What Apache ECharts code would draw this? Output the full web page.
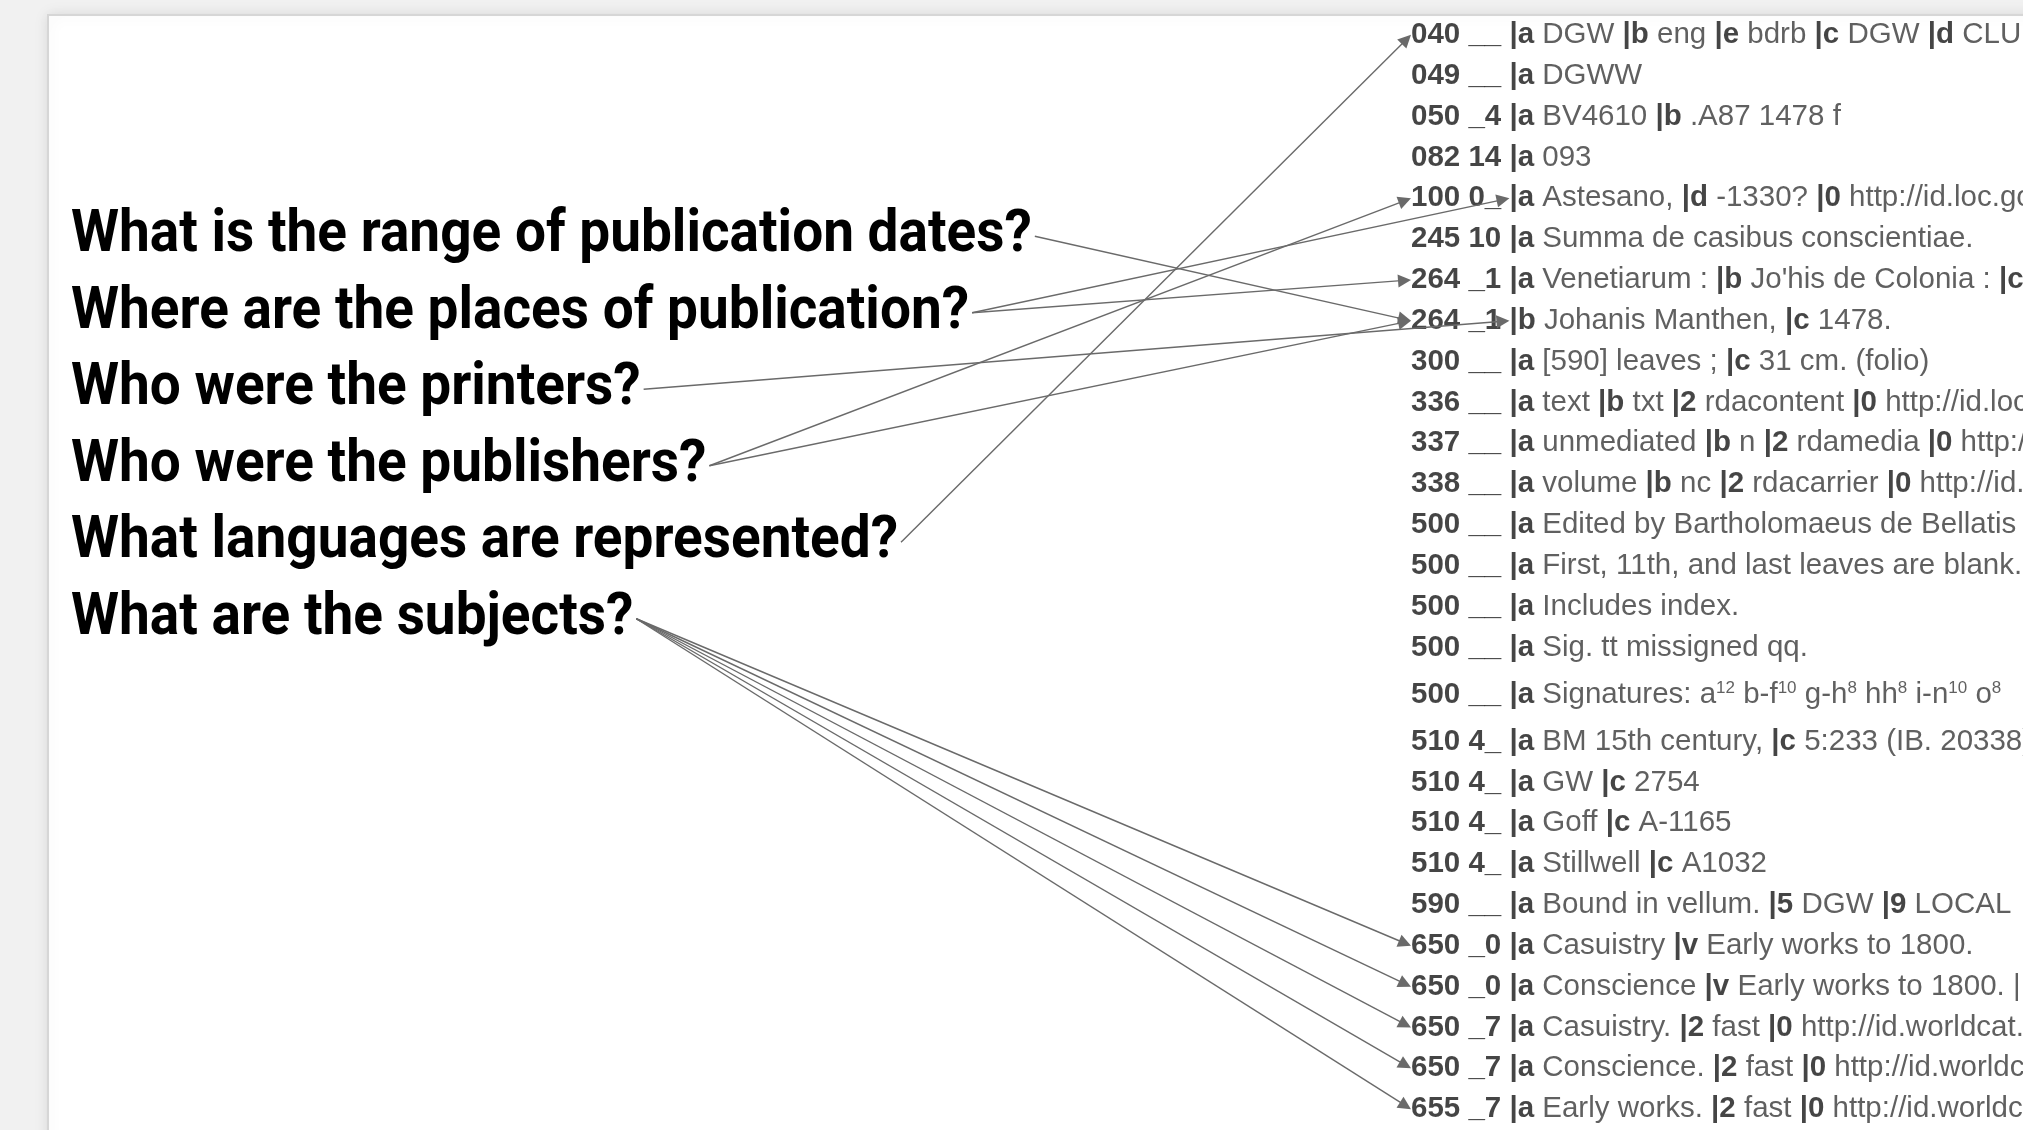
<!DOCTYPE html>
<html>
<head>
<meta charset="utf-8">
<title>MARC questions</title>
<script src="https://cdn.jsdelivr.net/npm/echarts@6/dist/echarts.min.js"></script>
<style>
  html, body { margin: 0; padding: 0; background: #f1f1f1; }
  #main { width: 2023px; height: 1130px; }
</style>
</head>
<body>
<div id="main"></div>
<script>
// questions on the left
var questions = [
  'What is the range of publication dates?',
  'Where are the places of publication?',
  'Who were the printers?',
  'Who were the publishers?',
  'What languages are represented?',
  'What are the subjects?'
];

// MARC record on the right
var fieldTags = ['040', '049', '050', '082', '100', '245', '264', '264', '300', '336', '337', '338',
  '500', '500', '500', '500', '500', '510', '510', '510', '510', '590', '650', '650', '650', '650', '655'];
var fieldInds = ['__', '__', '_4', '14', '0_', '10', '_1', '_1', '__', '__', '__', '__',
  '__', '__', '__', '__', '__', '4_', '4_', '4_', '4_', '__', '_0', '_0', '_7', '_7', '_7'];
var fieldText = [
  '|a DGW |b eng |e bdrb |c DGW |d CLU',
  '|a DGWW',
  '|a BV4610 |b .A87 1478 f',
  '|a 093',
  '|a Astesano, |d -1330? |0 http://id.loc.gov/authorities/names',
  '|a Summa de casibus conscientiae.',
  '|a Venetiarum : |b Jo\'his de Colonia : |c',
  '|b Johanis Manthen, |c 1478.',
  '|a [590] leaves ; |c 31 cm. (folio)',
  '|a text |b txt |2 rdacontent |0 http://id.loc.gov/vocabulary',
  '|a unmediated |b n |2 rdamedia |0 http://id.loc.gov/vocabulary',
  '|a volume |b nc |2 rdacarrier |0 http://id.loc.gov/vocabulary',
  '|a Edited by Bartholomaeus de Bellatis',
  '|a First, 11th, and last leaves are blank.',
  '|a Includes index.',
  '|a Sig. tt missigned qq.',
  '|a Signatures: a¹² b-f¹⁰ g-h⁸ hh⁸ i-n¹⁰ o⁸',
  '|a BM 15th century, |c 5:233 (IB. 20338)',
  '|a GW |c 2754',
  '|a Goff |c A-1165',
  '|a Stillwell |c A1032',
  '|a Bound in vellum. |5 DGW |9 LOCAL',
  '|a Casuistry |v Early works to 1800.',
  '|a Conscience |v Early works to 1800. |',
  '|a Casuistry. |2 fast |0 http://id.worldcat.org/fast',
  '|a Conscience. |2 fast |0 http://id.worldcat.org/fast',
  '|a Early works. |2 fast |0 http://id.worldcat.org/fast'
];

// arrows: question index -> field index, pointing at the tag or at the subfield
var linkFrom = [0, 1, 1, 2, 3, 3, 4, 5, 5, 5, 5, 5];
var linkTo   = [7, 4, 6, 7, 4, 7, 0, 22, 23, 24, 25, 26];
var linkAt   = ['tag', 'sub', 'tag', 'sub', 'tag', 'tag', 'tag', 'tag', 'tag', 'tag', 'tag', 'tag'];

var qFont = 'Roboto, "Liberation Sans", sans-serif';
var fFont = '"Liberation Sans", Arial, sans-serif';
var qSize = 60;
var qScale = 0.916;   // the questions are set in a condensed face
var fSize = 29.5;
var arrowSize = 13;
var supMap = { '⁰': '0', '¹': '1', '²': '2', '³': '3', '⁴': '4', '⁵': '5', '⁶': '6', '⁷': '7', '⁸': '8', '⁹': '9' };

function measure(text, font) {
  var ctx = measure.ctx || (measure.ctx = document.createElement('canvas').getContext('2d'));
  ctx.font = font;
  return ctx.measureText(text).width;
}

// row positions (lines with superscripts are taller)
var rowCenter = [];
var rowTotal = 0;
for (var i = 0; i < fieldText.length; i++) {
  var h = /[⁰¹²³⁴⁵⁶⁷⁸⁹]/.test(fieldText[i]) ? 1.3 : 1;
  rowCenter.push(rowTotal + h / 2);
  rowTotal += h;
}

function plain(p) {
  // superscript digits become small raised tokens
  var out = '';
  p.split(/([⁰¹²³⁴⁵⁶⁷⁸⁹]+)/).forEach(function (s) {
    if (!s) return;
    if (supMap[s[0]]) out += '{s|' + s.split('').map(function (c) { return supMap[c]; }).join('') + '}';
    else out += '{n|' + s + '}';
  });
  return out;
}

function fieldLabel(i) {
  var s = '{t|' + fieldTags[i] + ' ' + fieldInds[i] + ' }';
  fieldText[i].split(/(\|[a-z0-9])/).forEach(function (p) {
    if (!p) return;
    if (/^\|[a-z0-9]$/.test(p)) s += '{c|' + p + '}';
    else s += plain(p);
  });
  return s;
}

var myChart = echarts.init(document.getElementById('main'));

var option = {
  animation: false,
  backgroundColor: '#f1f1f1',
  graphic: [
    {
      type: 'rect',
      z: 0,
      shape: { x: 48, y: 15, width: 2100, height: 1300 },
      style: {
        fill: '#ffffff',
        stroke: '#d6d6d6',
        lineWidth: 2,
        shadowBlur: 14,
        shadowColor: 'rgba(0,0,0,0.10)'
      }
    }
  ],
  grid: [
    { left: 0, top: 0, width: 2023, height: 1130 },
    { left: 71, top: 198, width: 1000, height: 459 },
    { left: 1411, top: 14.4, right: 0, height: 1115.2 }
  ],
  xAxis: [
    { type: 'value', gridIndex: 0, min: 0, max: 2023, show: false },
    { type: 'value', gridIndex: 1, min: 0, max: 1, show: false },
    { type: 'value', gridIndex: 2, min: 0, max: 1, show: false }
  ],
  yAxis: [
    { type: 'value', gridIndex: 0, min: 0, max: 1130, inverse: true, show: false },
    { type: 'category', gridIndex: 1, data: questions, inverse: true, show: false },
    { type: 'value', gridIndex: 2, min: 0, max: rowTotal, inverse: true, show: false }
  ],
  series: [
    {
      name: 'questions',
      type: 'custom',
      xAxisIndex: 1,
      yAxisIndex: 1,
      silent: true,
      data: questions.map(function (q, i) { return [0, i]; }),
      renderItem: function (params, api) {
        var p = api.coord([0, api.value(1)]);
        return {
          type: 'text',
          x: p[0],
          y: p[1],
          scaleX: qScale,
          style: {
            text: questions[params.dataIndex],
            fontFamily: qFont,
            fontWeight: 'bold',
            fontSize: qSize,
            fill: '#000000',
            align: 'left',
            verticalAlign: 'middle'
          }
        };
      },
      z: 3
    },
    {
      name: 'fields',
      type: 'scatter',
      xAxisIndex: 2,
      yAxisIndex: 2,
      symbolSize: 0,
      silent: true,
      data: rowCenter.map(function (c) { return [0, c]; }),
      label: {
        show: true,
        position: 'right',
        distance: 0,
        formatter: function (p) { return fieldLabel(p.dataIndex); },
        rich: {
          t: { fontFamily: fFont, fontSize: fSize, fontWeight: 'bold', color: '#161616' },
          c: { fontFamily: fFont, fontSize: fSize, fontWeight: 'bold', color: '#161616' },
          n: { fontFamily: fFont, fontSize: fSize, color: '#383838' },
          s: { fontFamily: fFont, fontSize: 17, color: '#383838', verticalAlign: 'top' }
        }
      },
      z: 3
    }
  ]
};

myChart.setOption(option);

// arrows, from the end of each question to its MARC field
var linesData = [];
for (var k = 0; k < linkFrom.length; k++) {
  var q = linkFrom[k];
  var f = linkTo[k];
  var qp = myChart.convertToPixel({ seriesIndex: 0 }, [0, q]);
  var qWidth = measure(questions[q], 'bold ' + qSize + 'px ' + qFont) * qScale;
  var start = [qp[0] + qWidth + 3, qp[1]];
  var fp = myChart.convertToPixel({ seriesIndex: 1 }, [0, rowCenter[f]]);
  var tip = [fp[0], fp[1]];
  if (linkAt[k] === 'sub') {
    tip[0] += measure(fieldTags[f] + ' ' + fieldInds[f] + ' ', 'bold ' + fSize + 'px ' + fFont);
  }
  var dx = tip[0] - start[0];
  var dy = tip[1] - start[1];
  var len = Math.sqrt(dx * dx + dy * dy);
  var end = [tip[0] - dx / len * arrowSize / 2, tip[1] - dy / len * arrowSize / 2];
  linesData.push({
    coords: [
      myChart.convertFromPixel({ gridIndex: 0 }, start),
      myChart.convertFromPixel({ gridIndex: 0 }, end)
    ]
  });
}

option.series.push({
  name: 'arrows',
  type: 'lines',
  coordinateSystem: 'cartesian2d',
  xAxisIndex: 0,
  yAxisIndex: 0,
  silent: true,
  symbol: ['none', 'triangle'],
  symbolSize: arrowSize,
  lineStyle: { color: '#6a6a6a', width: 1.4, opacity: 1 },
  itemStyle: { color: '#6a6a6a' },
  data: linesData,
  z: 4
});
myChart.setOption(option);
</script>
</body>
</html>
